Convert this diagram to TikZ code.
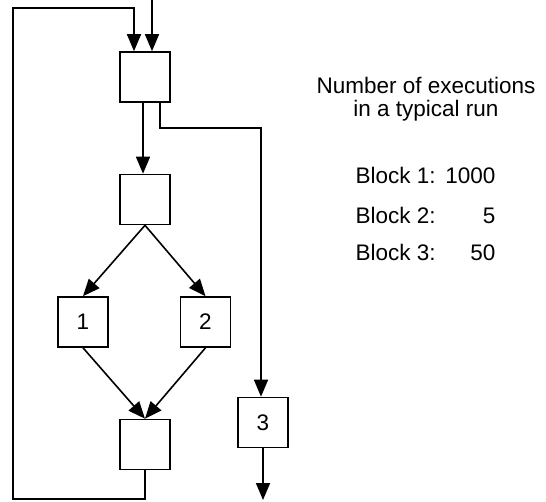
\documentclass[tikz,border=0pt]{standalone}
\usepackage{fontspec}
\setmainfont{Liberation Sans}
\usetikzlibrary{arrows.meta}
\begin{document}
\begin{tikzpicture}[x=1pt,y=-1pt,
  every node/.style={font=\fontsize{22.5}{26}\selectfont},
  blk/.style={draw,line width=1.6pt,minimum width=50pt,minimum height=50pt,inner sep=0pt},
  conn/.style={line width=1.6pt},
  arr/.style={conn,-{Triangle[length=17pt,width=14pt]}}]
\useasboundingbox (0,0) rectangle (546,501);
% blocks
\node[blk] (A) at (145,77) {};
\node[blk] (B) at (145,199.5) {};
\node[blk] (b1) at (83,322) {1};
\node[blk] (b2) at (205.5,322) {2};
\node[blk] (D) at (145,444.5) {};
\node[blk] (b3) at (263,422.5) {3};
% free ends
\coordinate (entry) at (152,0);
\coordinate (exit) at (263,500);
\coordinate (loopBL) at (13,499);
\coordinate (loopTL) at (13,8);
% connectors
\draw[arr] (entry) -- (entry |- A.north);
\draw[arr] (D.south) |- (loopBL) -- (loopTL) -| ([xshift=-11pt]A.north);
\draw[arr] ([xshift=-2pt]A.south) -- ([xshift=-2pt]B.north);
\draw[arr] ([xshift=15pt]A.south) |- ++(0,25) -| ([xshift=-2pt]b3.north);
\draw[arr] (B.south) -- (b1.north);
\draw[arr] (B.south) -- (b2.north);
\draw[arr] (b1.south) -- (D.north);
\draw[arr] (b2.south) -- (D.north);
\draw[arr] (b3.south) -- (exit);
% legend
\node[anchor=base] (t1) at (426,93) {Number of executions};
\node[anchor=base] (t2) at (426,116) {in a typical run};
\node[anchor=base west] (l1) at (352,183) {Block 1:};
\node[anchor=base east] (v1) at (499,183) {1000};
\node[anchor=base west] (l2) at (352,223) {Block 2:};
\node[anchor=base east] (v2) at (499,223) {5};
\node[anchor=base west] (l3) at (352,260) {Block 3:};
\node[anchor=base east] (v3) at (499,260) {50};
\end{tikzpicture}
\end{document}
